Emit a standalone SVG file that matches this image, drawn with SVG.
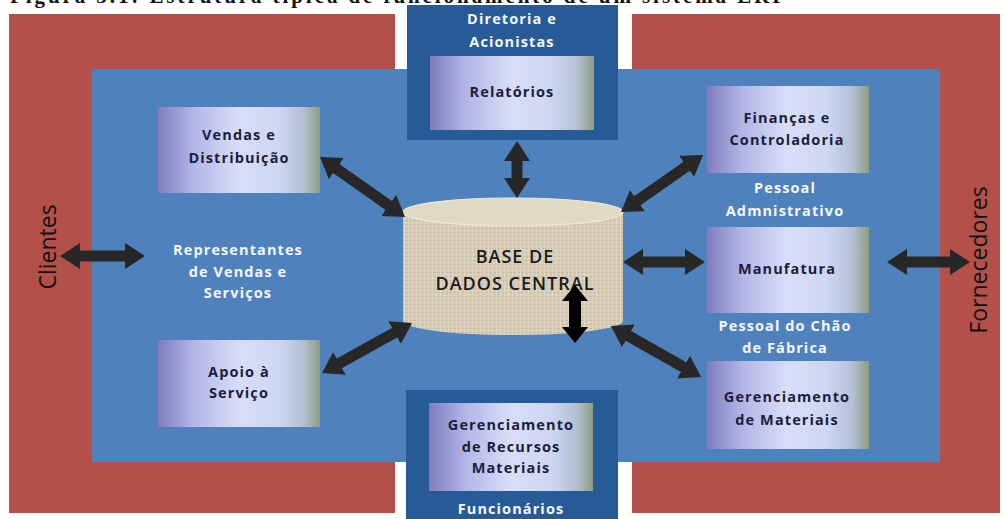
<svg xmlns="http://www.w3.org/2000/svg" width="1004" height="519" viewBox="0 0 1004 519">
<style>
.red{fill:#b4504a}
.main{fill:#4f81bd}
.dark{fill:#275b98}
.box{fill:url(#boxGrad)}
.nt{font-family:"Open Sans","Liberation Sans",sans-serif;font-weight:700;font-size:14.5px;letter-spacing:1.1px;fill:#1b1d3c;text-anchor:middle}
.wt{font-family:"Open Sans","Liberation Sans",sans-serif;font-weight:700;font-size:14.5px;letter-spacing:1.1px;fill:#f4f7fc;text-anchor:middle}
.side{font-family:"Open Sans","Liberation Sans",sans-serif;font-size:23px;font-weight:500;fill:#111;text-anchor:middle}
.db{font-family:"Open Sans","Liberation Sans",sans-serif;font-size:18px;font-weight:600;letter-spacing:1px;fill:#1a1a1a;text-anchor:middle}
.conn{stroke:#272727;stroke-width:11;fill:none;marker-start:url(#head);marker-end:url(#head)}
</style>
<defs>
<linearGradient id="boxGrad" x1="0" y1="0" x2="1" y2="0">
<stop offset="0" stop-color="#7f7bbf"/>
<stop offset="0.22" stop-color="#b3b6e6"/>
<stop offset="0.5" stop-color="#d9def8"/>
<stop offset="0.75" stop-color="#ccd6f3"/>
<stop offset="0.9" stop-color="#b3c0d2"/>
<stop offset="1" stop-color="#8d9d80"/>
</linearGradient>
<pattern id="burlap" width="4" height="4" patternUnits="userSpaceOnUse">
<rect width="4" height="4" fill="#d8cdb4"/>
<line x1="0" y1="0.5" x2="4" y2="0.5" stroke="#c4b89d" stroke-width="0.7"/>
<line x1="0.5" y1="0" x2="0.5" y2="4" stroke="#e4dccb" stroke-width="0.7"/>
</pattern>
<marker id="head" markerUnits="userSpaceOnUse" markerWidth="22" markerHeight="28" viewBox="0 -14 22 28" refX="1" refY="0" orient="auto-start-reverse">
<path d="M0,-13 L20,0 L0,13 Z" fill="#272727"/>
</marker>
</defs>
<rect width="1004" height="519" fill="#ffffff"/>
<text x="10" y="3" font-family="Liberation Serif,serif" font-weight="700" font-size="21" textLength="775" fill="#111">Figura 3.1: Estrutura típica de funcionamento de um sistema ERP</text>

<g id="clientes">
<rect class="red" x="9" y="14" width="386" height="499"/>
<text class="side" transform="translate(56,247) rotate(-90)">Clientes</text>
</g>
<g id="fornecedores">
<rect class="red" x="632" y="14" width="368" height="499"/>
<text class="side" transform="translate(987,260) rotate(-90)">Fornecedores</text>
</g>
<g id="empresa">
<rect class="main" x="92" y="69" width="848" height="393"/>
</g>
<g id="diretoria">
<rect class="dark" x="407" y="5" width="211" height="135"/>
<text class="wt" x="512" y="24">Diretoria e</text>
<text class="wt" x="512" y="47">Acionistas</text>
</g>
<g id="relatorios">
<rect class="box" x="430" y="56" width="164" height="74"/>
<text class="nt" x="512" y="97">Relatórios</text>
</g>
<g id="funcionarios">
<rect class="dark" x="406" y="390" width="212" height="129"/>
<text class="wt" x="511" y="514">Funcionários</text>
</g>
<g id="recursos-materiais">
<rect class="box" x="429" y="403" width="164" height="88"/>
<text class="nt" x="511" y="430">Gerenciamento</text>
<text class="nt" x="511" y="452">de Recursos</text>
<text class="nt" x="511" y="473">Materiais</text>
</g>
<g id="vendas">
<rect class="box" x="158" y="107" width="162" height="86"/>
<text class="nt" x="239" y="140">Vendas e</text>
<text class="nt" x="239" y="163">Distribuição</text>
</g>
<g id="representantes">
<text class="wt" x="238" y="255">Representantes</text>
<text class="wt" x="238" y="277">de Vendas e</text>
<text class="wt" x="238" y="298">Serviços</text>
</g>
<g id="apoio">
<rect class="box" x="158" y="340" width="162" height="87"/>
<text class="nt" x="239" y="377">Apoio à</text>
<text class="nt" x="239" y="398">Serviço</text>
</g>
<g id="financas">
<rect class="box" x="707" y="86" width="162" height="87"/>
<text class="nt" x="787" y="123">Finanças e</text>
<text class="nt" x="787" y="145">Controladoria</text>
</g>
<g id="pessoal-administrativo">
<text class="wt" x="785" y="193">Pessoal</text>
<text class="wt" x="785" y="216">Admnistrativo</text>
</g>
<g id="manufatura">
<rect class="box" x="707" y="227" width="162" height="86"/>
<text class="nt" x="787" y="274">Manufatura</text>
</g>
<g id="pessoal-chao">
<text class="wt" x="785" y="331">Pessoal do Chão</text>
<text class="wt" x="785" y="353">de Fábrica</text>
</g>
<g id="materiais">
<rect class="box" x="707" y="361" width="162" height="88"/>
<text class="nt" x="787" y="402">Gerenciamento</text>
<text class="nt" x="787" y="425">de Materiais</text>
</g>
<g id="base-dados">
<path d="M403,212 L403,321 A110,14 0 0 0 623,321 L623,212 Z" fill="url(#burlap)"/>
<ellipse cx="513" cy="212" rx="110" ry="14" fill="#e2d9c4" stroke="#efe9dc" stroke-width="1.2"/>
<text class="db" x="515" y="263">BASE DE</text>
<text class="db" x="515" y="290">DADOS CENTRAL</text>
</g>

<g id="connectors">
<line class="conn" x1="335.5" y1="168" x2="389.5" y2="206"/>
<line class="conn" x1="517" y1="160" x2="517" y2="179"/>
<line class="conn" x1="687.4" y1="165.8" x2="636.6" y2="201.2"/>
<line class="conn" x1="642" y1="262" x2="686" y2="262"/>
<line class="conn" x1="906" y1="262" x2="951" y2="262"/>
<line class="conn" x1="79" y1="256" x2="126" y2="256"/>
<line class="conn" x1="338.6" y1="363.8" x2="395.4" y2="332.2"/>
<line class="conn" x1="627.5" y1="335.4" x2="684.5" y2="367.6"/>
<polygon points="575,285 588,301 581,301 581,327 588,327 575,343 562,327 569,327 569,301 562,301" fill="#000"/>
</g>
</svg>
